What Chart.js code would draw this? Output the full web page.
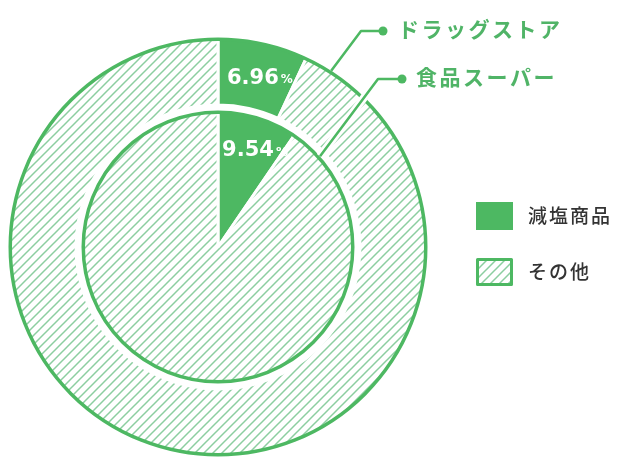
<!DOCTYPE html>
<html><head><meta charset="utf-8">
<script src="https://cdn.jsdelivr.net/npm/chart.js@4.4.0/dist/chart.umd.min.js"></script>
<style>html,body{margin:0;padding:0;background:#fff;}</style>
</head><body>
<canvas id="c" width="617" height="458"></canvas>
<script>
// ---- data ----
const seriesNames = ['ドラッグストア', '食品スーパー'];
const categories = ['減塩商品', 'その他'];
const drugstore = [6.96, 93.04];
const supermarket = [9.54, 90.46];

const GREEN = '#4db862';
const TEXT_GREEN = '#50b467';
const HATCH = 'rgb(140,206,160)';

function makeHatch(ctx) {
  const s = 9;
  const c = document.createElement('canvas'); c.width = s; c.height = s;
  const g = c.getContext('2d');
  g.fillStyle = '#fff'; g.fillRect(0, 0, s, s);
  g.strokeStyle = HATCH; g.lineWidth = 1.5;
  g.beginPath();
  g.moveTo(-1, s + 1); g.lineTo(s + 1, -1);
  g.moveTo(-1, 1); g.lineTo(1, -1);
  g.moveTo(s - 1, s + 1); g.lineTo(s + 1, s - 1);
  g.stroke();
  return ctx.createPattern(c, 'repeat');
}

const canvas = document.getElementById('c');
const ctx0 = canvas.getContext('2d');
const hatch = makeHatch(ctx0);

function rayCircle(px, py, dx, dy, cx, cy, R) {
  const ox = px - cx, oy = py - cy;
  const b = ox * dx + oy * dy;
  const c = ox * ox + oy * oy - R * R;
  const disc = b * b - c;
  const t = -b - Math.sqrt(Math.max(disc, 0));
  return [px + t * dx, py + t * dy];
}

const overlay = {
  id: 'overlay',
  beforeDraw(chart) {
    const ctx = chart.ctx;
    ctx.save(); ctx.fillStyle = '#fff'; ctx.fillRect(0, 0, chart.width, chart.height); ctx.restore();
  },
  afterDatasetsDraw(chart) {
    const ctx = chart.ctx;
    const a0 = chart.getDatasetMeta(0).data[0];
    const a2 = chart.getDatasetMeta(2).data[0];
    const cx = a0.x, cy = a0.y;
    const R0 = a0.outerRadius, R2 = a2.outerRadius;
    ctx.save();
    // outlines
    ctx.strokeStyle = GREEN; ctx.lineWidth = 3.5;
    ctx.beginPath(); ctx.arc(cx, cy, R0 - 1.75, 0, Math.PI * 2); ctx.stroke();
    ctx.beginPath(); ctx.arc(cx, cy, R2 - 1.75, 0, Math.PI * 2); ctx.stroke();

    // value labels
    function drawValue(arc, frac, r, value) {
      const th = arc.startAngle + frac * (arc.endAngle - arc.startAngle);
      const x = cx + r * Math.cos(th), y = cy + r * Math.sin(th);
      const num = value.toFixed(2);
      ctx.fillStyle = '#fff';
      ctx.textBaseline = 'alphabetic';
      ctx.textAlign = 'left';
      ctx.font = 'bold 21px "DejaVu Sans"';
      const w1 = ctx.measureText(num).width;
      ctx.font = 'bold 12px "DejaVu Sans"';
      const w2 = ctx.measureText('%').width;
      const x0 = x - (w1 + 2 + w2) / 2;
      ctx.font = 'bold 21px "DejaVu Sans"';
      ctx.fillText(num, x0, y + 7.5);
      ctx.font = 'bold 12px "DejaVu Sans"';
      ctx.fillText('%', x0 + w1 + 2, y + 7);
    }
    drawValue(a0, 0.55, (a0.innerRadius + a0.outerRadius) / 2, drugstore[0]);
    drawValue(a2, 0.6, a2.outerRadius * 0.77, supermarket[0]);

    // callouts
    const dir = [-0.6, 0.8];
    const callouts = [
      { name: seriesNames[0], dot: [383, 31], corner: [361, 31], R: R0, tx: 398, ty: 29 },
      { name: seriesNames[1], dot: [402, 79], corner: [378, 79], R: R2, tx: 416, ty: 77 }
    ];
    const ends = callouts.map(c => rayCircle(c.corner[0], c.corner[1], dir[0], dir[1], cx, cy, c.R));
    ctx.lineCap = 'butt';
    ctx.strokeStyle = '#fff'; ctx.lineWidth = 8;
    ctx.beginPath();
    ctx.moveTo(callouts[1].corner[0], callouts[1].corner[1]);
    ctx.lineTo(ends[1][0], ends[1][1]);
    ctx.stroke();
    ctx.strokeStyle = GREEN; ctx.lineWidth = 2.5; ctx.lineJoin = 'round';
    callouts.forEach((c, i) => {
      ctx.beginPath();
      ctx.moveTo(c.dot[0], c.dot[1]);
      ctx.lineTo(c.corner[0], c.corner[1]);
      ctx.lineTo(ends[i][0], ends[i][1]);
      ctx.stroke();
      ctx.fillStyle = GREEN;
      ctx.beginPath(); ctx.arc(c.dot[0], c.dot[1], 4.5, 0, Math.PI * 2); ctx.fill();
      ctx.fillStyle = TEXT_GREEN;
      ctx.font = 'bold 21px "Noto Sans CJK JP"';
      ctx.letterSpacing = '2.5px';
      ctx.textBaseline = 'middle'; ctx.textAlign = 'left';
      ctx.fillText(c.name, c.tx, c.ty);
    });

    // legend
    ctx.letterSpacing = '2px';
    const items = [
      { label: categories[0], fill: GREEN, border: null, y: 202 },
      { label: categories[1], fill: hatch, border: GREEN, y: 258 }
    ];
    items.forEach(it => {
      ctx.fillStyle = it.fill;
      ctx.fillRect(476, it.y, 37, 28);
      if (it.border) {
        ctx.strokeStyle = it.border; ctx.lineWidth = 3;
        ctx.strokeRect(477.5, it.y + 1.5, 34, 25);
      }
      ctx.fillStyle = '#333';
      ctx.font = '500 19px "Noto Sans CJK JP"';
      ctx.textBaseline = 'middle'; ctx.textAlign = 'left';
      ctx.fillText(it.label, 528, it.y + 14);
    });
    ctx.restore();
  }
};

new Chart(canvas, {
  type: 'doughnut',
  data: {
    labels: categories,
    datasets: [
      { label: seriesNames[0], data: drugstore, backgroundColor: [GREEN, hatch], weight: 67.5 },
      { label: 'spacer', data: [1], backgroundColor: ['rgba(0,0,0,0)'], borderColor: 'rgba(0,0,0,0)', weight: 5.5 },
      { label: seriesNames[1], data: supermarket, backgroundColor: [GREEN, hatch], weight: 136.5 }
    ]
  },
  options: {
    responsive: false,
    devicePixelRatio: 1,
    animation: false,
    events: [],
    cutout: 0,
    elements: { arc: { borderWidth: 3, borderColor: '#fff', hoverBorderWidth: 0 } },
    layout: { padding: { top: 36, bottom: 0, left: 0, right: 181 } },
    plugins: { legend: { display: false }, tooltip: { enabled: false } }
  },
  plugins: [overlay]
});
</script>
</body></html>
